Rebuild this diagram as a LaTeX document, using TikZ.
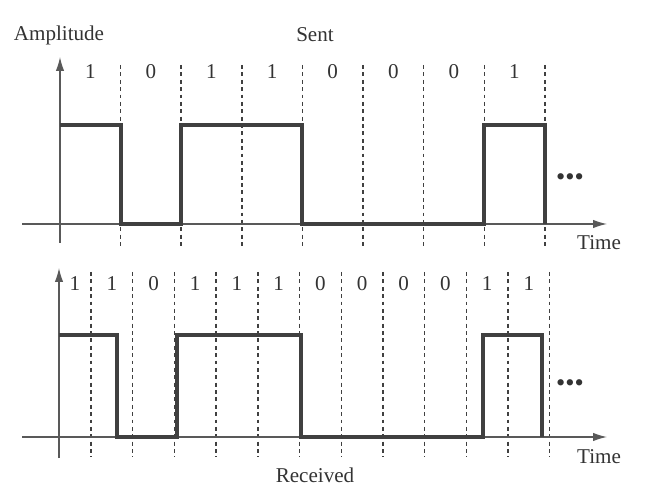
\documentclass[tikz,border=0pt]{standalone}
\usepackage{fontspec}
\setmainfont{Liberation Serif}
\usetikzlibrary{arrows.meta}

\begin{document}
\begin{tikzpicture}[x=0.02cm, y=-0.02cm,
    lbl/.style={font=\fontsize{12}{14}\selectfont, text=black!80, inner sep=0pt},
    axis/.style={line width=0.7pt, black!65, -{Latex[length=2.8mm,width=1.7mm]}},
    wave/.style={line width=2pt, black!75, line join=miter},
    slot/.style={line width=0.8pt, black!75, dash pattern=on 2.2pt off 2pt},
    dotmark/.style={font=\fontsize{15}{15}\selectfont, text=black!80, inner sep=0pt}
]
    \useasboundingbox (0,0) rectangle (649,496);

    % sent signal
    \node[lbl] (amp) at (59,35) {Amplitude};
    \node[lbl] (sent) at (315,35) {Sent};
    \foreach \k in {1,...,8}
        \draw[slot] ({60+60.6*\k},65) -- ({60+60.6*\k},248);
    \foreach \b [count=\k] in {1,0,1,1,0,0,0,1}
        \node[lbl] (sbit\k) at ({60+60.6*(\k-0.5)},72) {\b};
    \draw[axis] (22,224) -- (607,224);
    \draw[axis] (60,243) -- (60,57);
    \draw[wave] (60,125) -- (121,125) -- (121,224) -- (181,224) -- (181,125)
        -- (302,125) -- (302,224) -- (484,224) -- (484,125) -- (545,125) -- (545,224);
    \node[dotmark] (dotsA) at (570,180) {•••};
    \node[lbl] (timeA) at (599,243) {Time};

    % received signal
    \foreach \k in {0,...,11}
        \draw[slot] ({91+41.7*\k},272) -- ({91+41.7*\k},457);
    \node[lbl] (rbit0) at (75,284) {1};
    \foreach \b [count=\k] in {1,0,1,1,1,0,0,0,0,1,1}
        \node[lbl] (rbit\k) at ({91+41.7*(\k-0.5)},284) {\b};
    \draw[axis] (22,437) -- (607,437);
    \draw[axis] (59,458) -- (59,268);
    \draw[wave] (59,335) -- (117,335) -- (117,437) -- (177,437) -- (177,335)
        -- (301,335) -- (301,437) -- (483,437) -- (483,335) -- (542,335) -- (542,437);
    \node[dotmark] (dotsB) at (570,386) {•••};
    \node[lbl] (timeB) at (599,457) {Time};
    \node[lbl] (received) at (315,475) {Received};
\end{tikzpicture}
\end{document}
